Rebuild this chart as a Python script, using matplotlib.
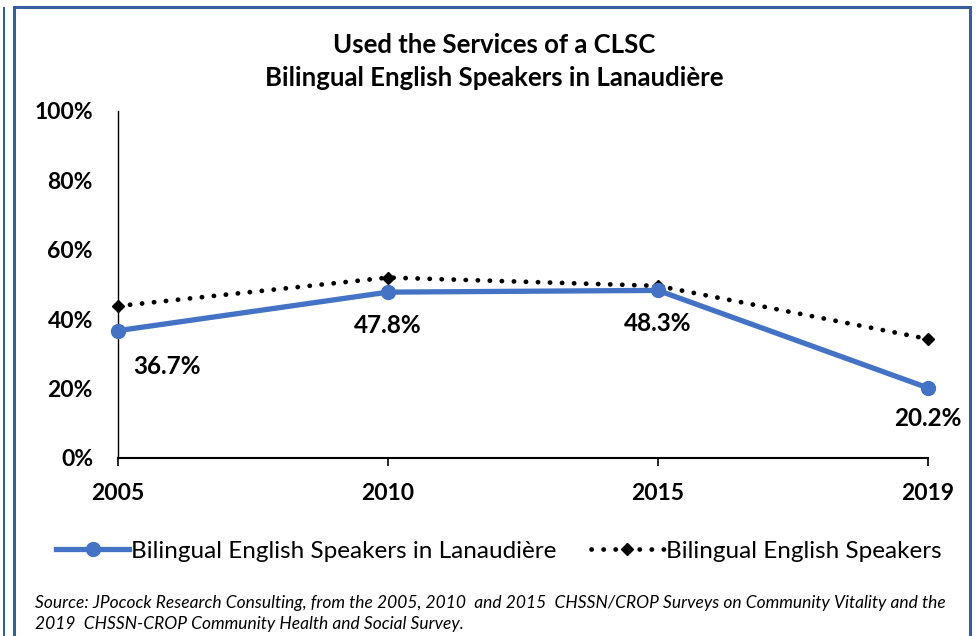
import matplotlib.pyplot as plt
from matplotlib.patches import Rectangle
from matplotlib.lines import Line2D

# data
years = ["2005", "2010", "2015", "2019"]
lanaudiere = [36.7, 47.8, 48.3, 20.2]
bilingual = [43.8, 52.0, 49.6, 34.3]
labels = ["36.7%", "47.8%", "48.3%", "20.2%"]
yticks = [0, 20, 40, 60, 80, 100]

plt.rcParams["font.family"] = ["Lato", "DejaVu Sans"]

blue = "#4472C4"
fig = plt.figure(figsize=(9.77, 6.36), dpi=100)
ax = fig.add_axes([118 / 977, 1 - 458 / 636, (928 - 118) / 977, (458 - 111) / 636])

x = list(range(len(years)))
ax.plot(x, bilingual, color="black", lw=3.4, linestyle=(0, (0.05, 2.5)),
        dash_capstyle="round", marker="D", markersize=6.5, zorder=2)
ax.plot(x, lanaudiere, color=blue, lw=3.8, marker="o", markersize=10, zorder=3)

# data labels under the blue points
offsets = [(35, -26), (0, -24), (0, -24), (0, -22)]
for i, (v, lab) in enumerate(zip(lanaudiere, labels)):
    ax.annotate(lab, (i, v), xytext=offsets[i], textcoords="offset points",
                ha="center", va="center", fontsize=17.5, fontweight="bold")

ax.set_xlim(0, 3)
ax.set_ylim(0, 100)
ax.set_yticks(yticks)
ax.set_yticklabels([f"{t}%" for t in yticks], fontsize=16.5, fontweight="bold")
ax.set_xticks(x)
ax.set_xticklabels(years, fontsize=16.5, fontweight="bold")
ax.tick_params(axis="y", length=0, pad=18)
ax.tick_params(axis="x", length=6, width=1.2, direction="out", pad=12)
for s in ["top", "right"]:
    ax.spines[s].set_visible(False)
ax.spines["left"].set_linewidth(1)
ax.spines["bottom"].set_linewidth(1.5)
for ln in ax.lines:
    ln.set_clip_on(False)

fig.text(494 / 977, 1 - 45 / 636, "Used the Services of a CLSC", ha="center", va="center",
         fontsize=18.5, fontweight="bold")
fig.text(494 / 977, 1 - 78 / 636, "Bilingual English Speakers in Lanaudière", ha="center",
         va="center", fontsize=18.5, fontweight="bold")

# legend
h1 = Line2D([], [], color=blue, lw=3.8, marker="o", markersize=10)
h2 = Line2D([], [], color="black", lw=3.4, linestyle=(0, (0.05, 2.5)),
            dash_capstyle="round", marker="D", markersize=6.5)
fig.legend([h1, h2], ["Bilingual English Speakers in Lanaudière", "Bilingual English Speakers"],
           loc="center", bbox_to_anchor=(499 / 977, 1 - 551 / 636), ncol=2, frameon=False,
           fontsize=17.5, handlelength=3.0, handletextpad=0.1, columnspacing=1.4)

fig.text(35 / 977, 1 - 603 / 636,
         "Source: JPocock Research Consulting, from the 2005, 2010  and 2015  CHSSN/CROP Surveys on Community Vitality and the",
         ha="left", va="center", fontsize=12.5, style="italic")
fig.text(35 / 977, 1 - 624 / 636,
         "2019  CHSSN-CROP Community Health and Social Survey.",
         ha="left", va="center", fontsize=12.5, style="italic")

# outer frame
border = "#3A5DA0"
fig.patches.append(Rectangle((14 / 977, -0.05), (970 - 14) / 977, 1.05 - 7 / 636,
                             transform=fig.transFigure, fill=False, edgecolor=border, lw=2.2))
fig.lines.append(Line2D([4 / 977, 4 / 977], [0, 1 - 8 / 636], transform=fig.transFigure,
                        color=border, lw=1.5))

fig.savefig("out.png", dpi=100)
